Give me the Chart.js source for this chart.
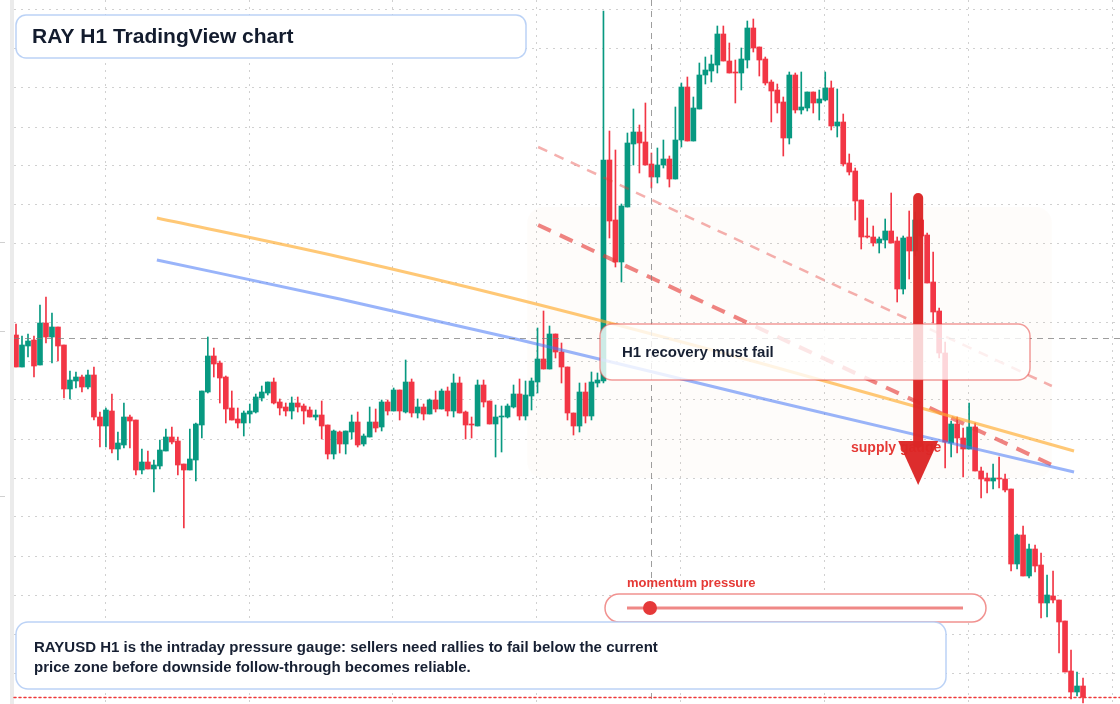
<!DOCTYPE html>
<html>
<head>
<meta charset="utf-8">
<script src="https://cdn.jsdelivr.net/npm/chart.js@4.4.1/dist/chart.umd.min.js"></script>
<style>
  html, body { margin: 0; padding: 0; background: #fff; }
  #wrap { width: 1120px; height: 704px; }
</style>
</head>
<body>
<div id="wrap"><canvas id="rayChart" width="1120" height="704"></canvas></div>
<script>
// RAYUSD H1 candles (oldest first)
const opens = [
  1.369,1.337,1.358,1.364,1.339,1.381,1.367,1.377,1.359,1.315,1.323,1.327,1.317,1.329,1.287,1.278,1.293,1.255,1.259,1.287,
  1.284,1.234,1.242,1.235,1.238,1.253,1.267,1.263,1.240,1.234,1.244,1.279,1.312,1.348,1.341,1.327,1.296,1.285,1.281,1.290,
  1.292,1.306,1.311,1.322,1.302,1.297,1.293,1.301,1.298,1.294,1.287,1.289,1.279,1.250,1.272,1.260,1.272,1.282,1.260,1.267,
  1.282,1.277,1.302,1.293,1.314,1.292,1.322,1.291,1.297,1.290,1.304,1.295,1.313,1.293,1.321,1.292,1.280,1.278,1.319,1.303,
  1.280,1.287,1.287,1.297,1.310,1.288,1.308,1.322,1.345,1.335,1.370,1.352,1.337,1.291,1.278,1.312,1.288,1.321,1.323,1.544,
  1.484,1.442,1.497,1.560,1.572,1.562,1.540,1.527,1.539,1.545,1.525,1.564,1.617,1.563,1.595,1.629,1.633,1.639,1.670,1.643,
  1.632,1.631,1.644,1.676,1.657,1.645,1.622,1.614,1.602,1.566,1.629,1.594,1.596,1.612,1.601,1.604,1.616,1.578,1.582,1.541,
  1.533,1.504,1.468,1.467,1.461,1.464,1.473,1.463,1.415,1.467,1.453,1.484,1.469,1.422,1.393,1.351,1.261,1.280,1.266,1.255,
  1.277,1.233,1.226,1.223,1.226,1.225,1.215,1.140,1.169,1.128,1.155,1.139,1.101,1.108,1.104,1.083,1.033,1.012,1.018
];
const highs = [
  1.380,1.368,1.370,1.368,1.399,1.407,1.391,1.377,1.359,1.333,1.332,1.329,1.334,1.337,1.292,1.296,1.310,1.272,1.301,1.289,
  1.284,1.255,1.253,1.244,1.264,1.275,1.277,1.267,1.240,1.275,1.281,1.313,1.367,1.356,1.343,1.328,1.313,1.296,1.293,1.300,
  1.310,1.318,1.322,1.326,1.305,1.301,1.307,1.307,1.300,1.297,1.294,1.303,1.279,1.274,1.273,1.273,1.289,1.292,1.270,1.297,
  1.295,1.304,1.304,1.316,1.314,1.344,1.325,1.305,1.300,1.305,1.313,1.315,1.317,1.330,1.327,1.293,1.287,1.324,1.324,1.303,
  1.299,1.298,1.300,1.319,1.325,1.323,1.326,1.376,1.393,1.378,1.370,1.361,1.337,1.291,1.321,1.321,1.332,1.331,1.693,1.573,
  1.554,1.500,1.571,1.595,1.579,1.601,1.551,1.556,1.564,1.548,1.597,1.621,1.627,1.607,1.641,1.647,1.649,1.678,1.678,1.661,
  1.644,1.656,1.683,1.685,1.657,1.647,1.624,1.620,1.607,1.632,1.631,1.632,1.612,1.612,1.614,1.632,1.623,1.615,1.590,1.550,
  1.536,1.504,1.486,1.478,1.467,1.485,1.511,1.467,1.468,1.493,1.492,1.486,1.471,1.452,1.396,1.362,1.283,1.287,1.276,1.301,
  1.281,1.237,1.231,1.240,1.247,1.230,1.215,1.170,1.178,1.160,1.159,1.151,1.129,1.133,1.104,1.083,1.054,1.032,1.026
];
const lows = [
  1.337,1.337,1.347,1.327,1.339,1.361,1.341,1.343,1.306,1.305,1.316,1.312,1.315,1.284,1.257,1.257,1.251,1.244,1.256,1.256,
  1.229,1.230,1.235,1.212,1.235,1.253,1.260,1.229,1.176,1.234,1.223,1.266,1.311,1.327,1.301,1.281,1.284,1.276,1.268,1.281,
  1.291,1.303,1.309,1.300,1.289,1.288,1.285,1.292,1.280,1.287,1.284,1.265,1.245,1.245,1.251,1.250,1.265,1.257,1.258,1.267,
  1.272,1.273,1.289,1.293,1.284,1.291,1.287,1.286,1.284,1.290,1.292,1.295,1.288,1.287,1.291,1.265,1.266,1.278,1.297,1.280,
  1.247,1.252,1.286,1.296,1.284,1.284,1.294,1.311,1.335,1.335,1.346,1.321,1.284,1.269,1.272,1.281,1.284,1.317,1.321,1.466,
  1.437,1.422,1.497,1.539,1.531,1.539,1.516,1.521,1.536,1.517,1.525,1.557,1.563,1.563,1.595,1.620,1.622,1.631,1.643,1.631,
  1.601,1.614,1.636,1.652,1.628,1.619,1.582,1.591,1.548,1.560,1.591,1.590,1.593,1.591,1.584,1.603,1.574,1.567,1.538,1.529,
  1.484,1.455,1.466,1.458,1.451,1.456,1.461,1.402,1.410,1.425,1.448,1.466,1.421,1.381,1.346,1.236,1.247,1.251,1.227,1.255,
  1.233,1.206,1.211,1.215,1.216,1.212,1.133,1.135,1.128,1.126,1.132,1.086,1.087,1.101,1.051,1.032,1.005,1.008,1.001
];
const closes = [
  1.337,1.359,1.363,1.338,1.381,1.367,1.377,1.358,1.315,1.324,1.327,1.317,1.329,1.287,1.278,1.294,1.255,1.261,1.287,1.283,
  1.234,1.242,1.235,1.239,1.254,1.267,1.262,1.239,1.234,1.245,1.280,1.313,1.348,1.340,1.326,1.295,1.284,1.281,1.291,1.293,
  1.307,1.312,1.322,1.301,1.296,1.293,1.301,1.297,1.293,1.287,1.289,1.278,1.250,1.273,1.260,1.273,1.282,1.259,1.268,1.282,
  1.276,1.302,1.293,1.314,1.293,1.322,1.291,1.297,1.290,1.304,1.295,1.313,1.293,1.321,1.291,1.279,1.279,1.319,1.302,1.280,
  1.287,1.288,1.298,1.310,1.288,1.309,1.323,1.345,1.335,1.370,1.352,1.337,1.291,1.278,1.312,1.288,1.322,1.324,1.544,1.483,
  1.442,1.498,1.561,1.572,1.561,1.539,1.527,1.539,1.545,1.525,1.564,1.617,1.563,1.596,1.629,1.634,1.640,1.670,1.643,1.631,
  1.631,1.645,1.676,1.656,1.644,1.621,1.613,1.601,1.566,1.629,1.594,1.597,1.612,1.601,1.605,1.616,1.578,1.582,1.540,1.532,
  1.503,1.467,1.467,1.461,1.465,1.473,1.461,1.415,1.466,1.453,1.484,1.468,1.421,1.392,1.351,1.262,1.280,1.266,1.255,1.277,
  1.233,1.225,1.223,1.226,1.225,1.214,1.140,1.169,1.128,1.155,1.138,1.101,1.109,1.104,1.082,1.032,1.012,1.018,1.007
];

// moving averages and channel guides (candle index, price)
const emaFast = [[23.5, 1.486], [54.0, 1.447], [84.1, 1.404], [124.1, 1.341], [176.5, 1.253]];
const emaSlow = [[23.5, 1.444], [54.0, 1.405], [84.1, 1.364], [124.1, 1.306], [176.5, 1.232]];
const upperGuide = [[87.1, 1.557], [172.8, 1.318]];
const lowerGuide = [[87.1, 1.479], [173.2, 1.238]];

// grid levels
const priceGrid = [1.694,1.655,1.616,1.577,1.538,1.499,1.460,1.421,1.382,1.343,1.304,1.265,1.226,1.187,1.148,1.109,1.070,1.031];
const timeGrid = [14.85, 38.87, 62.89, 86.91, 110.93, 134.95, 158.97, 182.99];

const UP = '#089981';
const DOWN = '#f23645';
const candleColors = opens.map((o, i) => closes[i] >= o ? UP : DOWN);
const toPts = arr => arr.map(p => ({ x: p[0], y: p[1] }));

const FONT = '"Liberation Sans", Arial, sans-serif';

function rr(ctx, x, y, w, h, r) {
    ctx.beginPath();
    ctx.roundRect(x, y, w, h, r);
}

const backdrop = {
    id: 'backdrop',
    beforeDraw(chart) {
        const ctx = chart.ctx;
        ctx.save();
        ctx.fillStyle = '#ffffff';
        ctx.fillRect(0, 0, chart.width, chart.height);
        ctx.fillStyle = '#ebebeb';
        ctx.fillRect(10, 0, 4, chart.height);
        ctx.fillStyle = '#d0d0d0';
        [242, 331, 496].forEach(y => ctx.fillRect(0, y, 5, 1));
        ctx.restore();
    }
};

// faint supply zone behind the candles
const zone = {
    id: 'zone',
    beforeDatasetsDraw(chart) {
        const { ctx, scales: { x, y } } = chart;
        const x0 = x.getPixelForValue(85.3), x1 = x.getPixelForValue(172.8);
        const y0 = y.getPixelForValue(1.497), y1 = y.getPixelForValue(1.226);
        ctx.save();
        ctx.fillStyle = 'rgba(240,205,175,0.06)';
        rr(ctx, x0, y0, x1 - x0, y1 - y0, 16);
        ctx.fill();
        ctx.restore();
    }
};

const overlays = {
    id: 'overlays',
    afterDatasetsDraw(chart) {
        const { ctx, scales: { x, y }, chartArea } = chart;
        ctx.save();

        // crosshair
        const cx = Math.round(x.getPixelForValue(105.95)) + 0.5;
        const cy = Math.round(y.getPixelForValue(1.366)) + 0.5;
        ctx.strokeStyle = 'rgba(125,125,125,0.75)';
        ctx.lineWidth = 1;
        ctx.setLineDash([6, 5]);
        ctx.beginPath();
        ctx.moveTo(cx, 0); ctx.lineTo(cx, chart.height);
        ctx.moveTo(chartArea.left, cy); ctx.lineTo(chartArea.right, cy);
        ctx.stroke();
        ctx.setLineDash([]);

        // supply label (partly hidden by the arrow)
        ctx.fillStyle = '#e53935';
        ctx.font = 'bold 14px ' + FONT;
        ctx.textBaseline = 'middle';
        ctx.fillText('supply gauge', 851, 448);

        // big down arrow
        const ax = x.getPixelForValue(150.5);
        const aTop = y.getPixelForValue(1.506);
        const aNeck = y.getPixelForValue(1.263);
        const aTip = y.getPixelForValue(1.219);
        ctx.strokeStyle = 'rgba(220,38,38,0.97)';
        ctx.fillStyle = 'rgba(220,38,38,0.97)';
        ctx.lineWidth = 10;
        ctx.lineCap = 'round';
        ctx.beginPath();
        ctx.moveTo(ax, aTop); ctx.lineTo(ax, aNeck + 2);
        ctx.stroke();
        ctx.beginPath();
        ctx.moveTo(ax - 20, aNeck); ctx.lineTo(ax + 20, aNeck); ctx.lineTo(ax, aTip);
        ctx.closePath();
        ctx.fill();

        // "H1 recovery must fail" callout
        ctx.fillStyle = 'rgba(255,255,255,0.8)';
        ctx.strokeStyle = 'rgba(229,57,53,0.5)';
        ctx.lineWidth = 1.5;
        rr(ctx, 600, 324, 430, 56, 12);
        ctx.fill(); ctx.stroke();
        ctx.fillStyle = '#172033';
        ctx.font = 'bold 15px ' + FONT;
        ctx.fillText('H1 recovery must fail', 622, 353);

        // last price line
        const lp = Math.round(y.getPixelForValue(closes[closes.length - 1])) + 0.5;
        ctx.strokeStyle = '#ef3b3b';
        ctx.setLineDash([2, 3]);
        ctx.beginPath();
        ctx.moveTo(chartArea.left, lp); ctx.lineTo(chartArea.right, lp);
        ctx.stroke();
        ctx.setLineDash([]);

        // momentum pressure gauge
        ctx.fillStyle = '#e53935';
        ctx.font = 'bold 13px ' + FONT;
        ctx.fillText('momentum pressure', 627, 583);
        ctx.fillStyle = '#ffffff';
        ctx.strokeStyle = 'rgba(229,57,53,0.55)';
        ctx.lineWidth = 1.5;
        rr(ctx, 605, 594, 381, 28, 14);
        ctx.fill(); ctx.stroke();
        ctx.strokeStyle = 'rgba(229,57,53,0.6)';
        ctx.lineWidth = 3;
        ctx.lineCap = 'butt';
        ctx.beginPath();
        ctx.moveTo(627, 608); ctx.lineTo(963, 608);
        ctx.stroke();
        ctx.fillStyle = '#e53939';
        ctx.beginPath();
        ctx.arc(650, 608, 7, 0, Math.PI * 2);
        ctx.fill();

        // note box
        ctx.fillStyle = '#ffffff';
        ctx.strokeStyle = 'rgba(180,205,245,0.9)';
        ctx.lineWidth = 1.5;
        rr(ctx, 16, 622, 930, 67, 12);
        ctx.fill(); ctx.stroke();
        ctx.fillStyle = '#172033';
        ctx.font = 'bold 15px ' + FONT;
        ctx.fillText('RAYUSD H1 is the intraday pressure gauge: sellers need rallies to fail below the current', 34, 648);
        ctx.fillText('price zone before downside follow-through becomes reliable.', 34, 668);

        // title box
        ctx.fillStyle = '#ffffff';
        rr(ctx, 16, 15, 510, 43, 10);
        ctx.fill(); ctx.stroke();
        ctx.fillStyle = '#131c2e';
        ctx.font = 'bold 21px ' + FONT;
        ctx.fillText('RAY H1 TradingView chart', 32, 37);

        ctx.restore();
    }
};

const ctx = document.getElementById('rayChart').getContext('2d');
const rayChart = new Chart(ctx, {
    type: 'bar',
    data: {
        datasets: [
            { type: 'line', label: 'EMA fast', data: toPts(emaFast), borderColor: 'rgba(255,170,45,0.65)', borderWidth: 3, pointRadius: 0, cubicInterpolationMode: 'monotone', order: 1 },
            { type: 'line', label: 'EMA slow', data: toPts(emaSlow), borderColor: 'rgba(70,118,245,0.55)', borderWidth: 3, pointRadius: 0, cubicInterpolationMode: 'monotone', order: 2 },
            { type: 'line', label: 'Upper guide', data: toPts(upperGuide), borderColor: 'rgba(229,57,53,0.4)', borderWidth: 2.5, borderDash: [10, 8], pointRadius: 0, order: 3 },
            { type: 'line', label: 'Lower guide', data: toPts(lowerGuide), borderColor: 'rgba(229,57,53,0.62)', borderWidth: 4, borderDash: [14, 10], pointRadius: 0, order: 4 },
            { label: 'Bodies', data: opens.map((o, i) => ({ x: i, y: [o, closes[i]] })), backgroundColor: candleColors, barThickness: 5, minBarLength: 1, grouped: false, order: 5 },
            { label: 'Wicks', data: lows.map((l, i) => ({ x: i, y: [l, highs[i]] })), backgroundColor: candleColors, barThickness: 1, grouped: false, order: 6 }
        ]
    },
    options: {
        responsive: false,
        animation: false,
        layout: { padding: { left: 14, right: 0, top: 0, bottom: 0 } },
        plugins: { legend: { display: false }, tooltip: { enabled: false } },
        scales: {
            x: {
                type: 'linear', min: -0.334, max: 184.17, offset: false,
                ticks: { display: false },
                grid: { color: '#d0d0d0', drawTicks: false, offset: false },
                border: { display: false, dash: [2, 5] },
                afterBuildTicks: s => { s.ticks = timeGrid.map(v => ({ value: v })); }
            },
            y: {
                type: 'linear', min: 1.000, max: 1.704,
                ticks: { display: false },
                grid: { color: '#d0d0d0', drawTicks: false },
                border: { display: false, dash: [2, 5] },
                afterBuildTicks: s => { s.ticks = priceGrid.map(v => ({ value: v })); }
            }
        }
    },
    plugins: [backdrop, zone, overlays]
});
</script>
</body>
</html>
